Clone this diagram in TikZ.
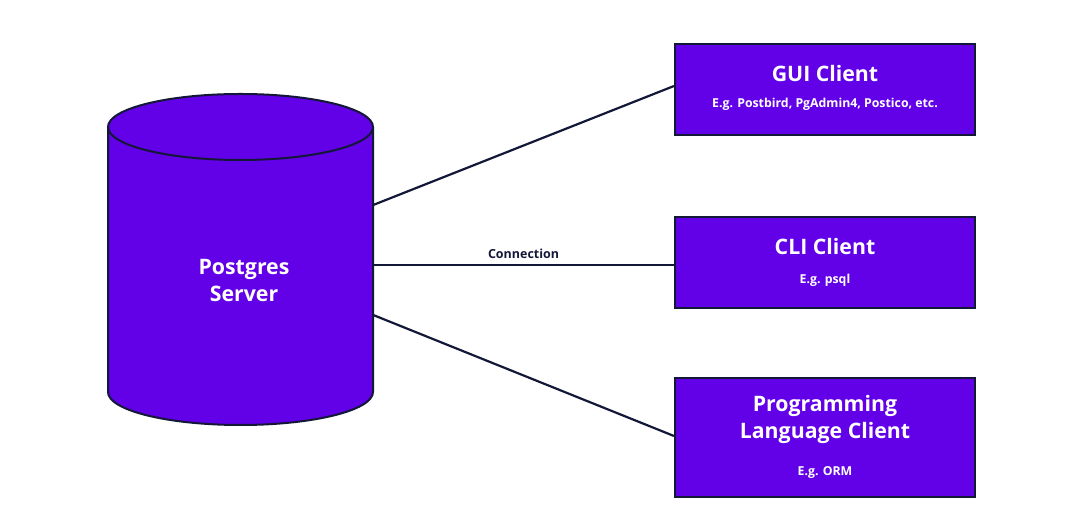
\documentclass[tikz,border=0pt]{standalone}
\usepackage{fontspec}
\setmainfont{Open Sans}
\usetikzlibrary{calc}
\definecolor{pfill}{HTML}{6200E8}
\definecolor{pline}{HTML}{141838}
\tikzset{
  client/.style={draw=pline, line width=2pt, fill=pfill, minimum width=300pt, inner sep=0pt},
  title/.style={text=white, font=\fontsize{21.3}{27}\selectfont\bfseries, align=center},
  sub/.style={text=white, font=\fontsize{12.3}{14}\selectfont\bfseries},
  conn/.style={draw=pline, line width=2.2pt},
}
\begin{document}
\begin{tikzpicture}[x=1pt,y=1pt]
\useasboundingbox (0,0) rectangle (1078,532);
% cylinder
\fill[pfill] (108,405) -- (108,140) arc (180:360:132.5 and 33) -- (373,405) arc (0:180:132.5 and 33) -- cycle;
\draw[pline, line width=2pt] (108,405) -- (108,140) arc (180:360:132.5 and 33) -- (373,405);
\draw[pline, line width=2pt] (240.5,405) ellipse (132.5 and 33);
\node[minimum width=265pt, minimum height=265pt, inner sep=0pt] (srv) at (240.5,272.5) {};
\node[title] (srvt) at (244,251) {Postgres\\Server};
% clients
\node[client, minimum height=91pt] (gui) at (825,442.5) {};
\node[title] (guit) at (825,458) {GUI Client};
\node[sub] (guis) at (825,428) {E.g. Postbird, PgAdmin4, Postico, etc.};
\node[client, minimum height=91pt] (cli) at (825,269.5) {};
\node[title] (clit) at (825,285) {CLI Client};
\node[sub] (clis) at (825,252) {E.g. psql};
\node[client, minimum height=119pt] (prog) at (825,94.5) {};
\node[title] (progt) at (825,113) {Programming\\Language Client};
\node[sub] (progs) at (825,59) {E.g. ORM};
% connectors
\coordinate (s1) at ($(srv.east)+(0,54.5)$);
\coordinate (s2) at ($(srv.east)+(0,-5.5)$);
\coordinate (s3) at ($(srv.east)+(0,-55.5)$);
\draw[conn] (s1) -- ($(gui.west)+(0,3.5)$);
\draw[conn] (s2) -- (s2 -| cli.west) node[pos=0.5, above=2pt, text=pline, font=\fontsize{12.5}{14}\selectfont\bfseries] (lab) {Connection};
\draw[conn] (s3) -- ($(prog.west)+(0,1.5)$);
\end{tikzpicture}
\end{document}
